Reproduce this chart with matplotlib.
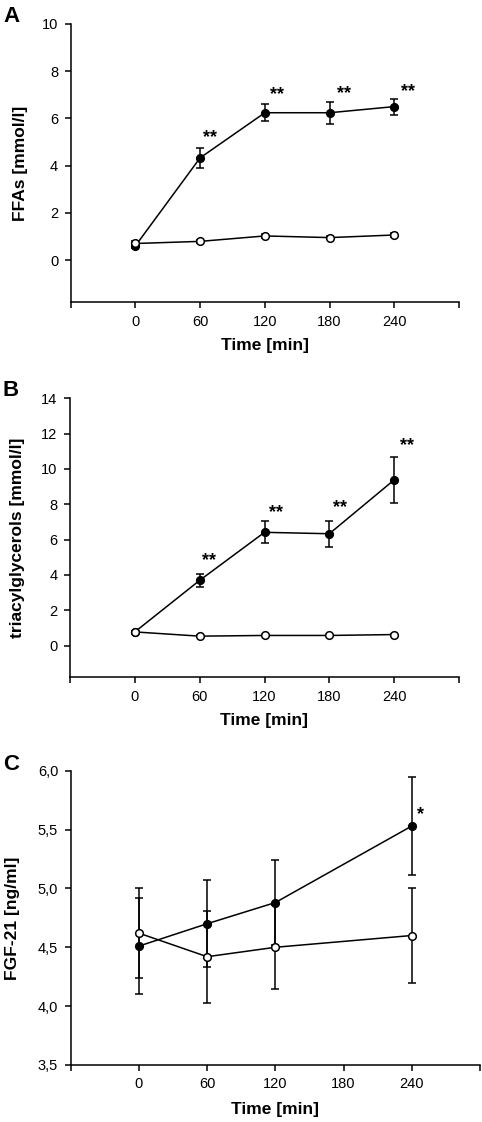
import matplotlib
matplotlib.use("Agg")
import matplotlib.pyplot as plt
from matplotlib.ticker import FixedLocator, FuncFormatter

plt.rcParams['font.family'] = ['Liberation Sans', 'DejaVu Sans']

# ---------------- data ----------------
time_all = [0, 60, 120, 180, 240]
time_c = [0, 60, 120, 240]

# Panel A: FFAs [mmol/l]
ffa_filled = [0.60, 4.33, 6.24, 6.24, 6.50]
ffa_filled_err = [0.10, 0.42, 0.36, 0.47, 0.34]
ffa_open = [0.70, 0.79, 1.02, 0.95, 1.06]
ffa_open_err = [0.10, 0.06, 0.07, 0.07, 0.08]
ffa_star_x = [69, 131, 193, 253]
ffa_star_y = [5.2, 7.0, 7.05, 7.15]
ffa_star_txt = ['**', '**', '**', '**']

# Panel B: triacylglycerols [mmol/l]
tg_filled = [0.77, 3.69, 6.41, 6.33, 9.38]
tg_filled_err = [0.05, 0.35, 0.62, 0.74, 1.32]
tg_open = [0.77, 0.53, 0.57, 0.57, 0.62]
tg_open_err = [0.05, 0.05, 0.05, 0.05, 0.06]
tg_star_x = [69, 131, 190, 252]
tg_star_y = [4.8, 7.55, 7.8, 11.3]
tg_star_txt = ['**', '**', '**', '**']

# Panel C: FGF-21 [ng/ml]
fgf_filled = [4.51, 4.70, 4.88, 5.53]
fgf_filled_err = [0.41, 0.37, 0.36, 0.42]
fgf_open = [4.62, 4.42, 4.50, 4.60]
fgf_open_err = [0.38, 0.39, 0.355, 0.40]
fgf_star_x = [248]
fgf_star_y = [5.63]
fgf_star_txt = ['*']

x_ticks = [-60, 0, 60, 120, 180, 240, 300]
x_labels = ['', '0', '60', '120', '180', '240', '']

W, H = 482, 1122
fig = plt.figure(figsize=(W / 100, H / 100), dpi=100)


def add_ax(left, right, top, bottom):
    return fig.add_axes([left / W, 1 - bottom / H, (right - left) / W, (bottom - top) / H])


def style(ax, ylim, yticks, ylabel, yfmt=None, ylab_x=-0.13):
    ax.set_xlim(-60, 300)
    ax.set_ylim(*ylim)
    for s in ['top', 'right']:
        ax.spines[s].set_visible(False)
    for s in ['left', 'bottom']:
        ax.spines[s].set_linewidth(1.1)
    ax.spines['left'].set_bounds(ylim[0], yticks[-1])
    ax.xaxis.set_major_locator(FixedLocator(x_ticks))
    ax.set_xticklabels(x_labels)
    ax.yaxis.set_major_locator(FixedLocator(yticks))
    if yfmt is not None:
        ax.yaxis.set_major_formatter(FuncFormatter(yfmt))
    ax.tick_params(direction='out', length=4, width=1.1, labelsize=10.5, pad=5)
    ax.set_xlabel('Time [min]', fontsize=12.5, fontweight='bold')
    ax.xaxis.set_label_coords(0.5, -0.155)
    ax.xaxis.label.set_va('center')
    ax.set_ylabel(ylabel, fontsize=12.5, fontweight='bold')
    ax.yaxis.set_label_coords(ylab_x, 0.5)
    ax.yaxis.label.set_va('center')


def series(ax, x, filled, ferr, opn, oerr):
    kw = dict(color='black', lw=1.1, capsize=3, elinewidth=1.1, capthick=1.1,
              marker='o', markersize=5.5, markeredgewidth=1.1)
    ax.errorbar(x, filled, yerr=ferr, mfc='black', mec='black', zorder=3, **kw)
    ax.errorbar(x, opn, yerr=oerr, mfc='white', mec='black', zorder=4, **kw)


def stars(ax, xs, ys, txt):
    for x, y, t in zip(xs, ys, txt):
        ax.text(x, y, t, ha='center', va='center', fontsize=13, fontweight='bold')


# Panel A
axA = add_ax(70.7, 459, 24, 302.5)
series(axA, time_all, ffa_filled, ffa_filled_err, ffa_open, ffa_open_err)
stars(axA, ffa_star_x, ffa_star_y, ffa_star_txt)
style(axA, (-1.8, 10), [0, 2, 4, 6, 8, 10], 'FFAs [mmol/l]', ylab_x=-0.13)
fig.text(3 / W, 1 - 16 / H, 'A', fontsize=16, fontweight='bold', va='center', ha='left')

# Panel B
axB = add_ax(70, 459, 398.3, 677.3)
series(axB, time_all, tg_filled, tg_filled_err, tg_open, tg_open_err)
stars(axB, tg_star_x, tg_star_y, tg_star_txt)
style(axB, (-1.8, 14), [0, 2, 4, 6, 8, 10, 12, 14], 'triacylglycerols [mmol/l]', ylab_x=-0.134)
fig.text(3 / W, 1 - 391 / H, 'B', fontsize=16, fontweight='bold', va='center', ha='left')

# Panel C
axC = add_ax(70.7, 480, 770.7, 1065)
series(axC, time_c, fgf_filled, fgf_filled_err, fgf_open, fgf_open_err)
stars(axC, fgf_star_x, fgf_star_y, fgf_star_txt)
style(axC, (3.5, 6.0), [3.5, 4.0, 4.5, 5.0, 5.5, 6.0], 'FGF-21 [ng/ml]',
      yfmt=lambda v, p: f"{v:.1f}".replace('.', ','), ylab_x=-0.141)
axC.xaxis.set_label_coords(0.5, -0.15)
fig.text(3 / W, 1 - 765 / H, 'C', fontsize=16, fontweight='bold', va='center', ha='left')

fig.savefig('out.png', dpi=100)
